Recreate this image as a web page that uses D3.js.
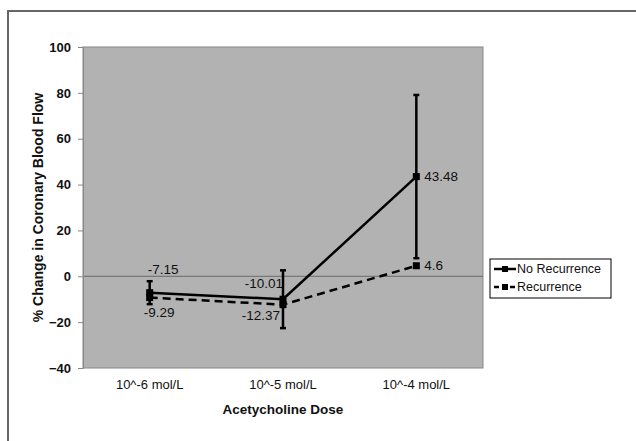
<!DOCTYPE html>
<html><head><meta charset="utf-8">
<script src="https://cdn.jsdelivr.net/npm/d3@7"></script>
<style>body{margin:0;background:#fff}svg{display:block}text{font-family:"Liberation Sans",Arial,sans-serif}</style>
</head><body><svg id="c" width="636" height="441"></svg>
<script>
const categories = ["10^-6 mol/L", "10^-5 mol/L", "10^-4 mol/L"];
const noRecurrence = [-7.15, -10.01, 43.48];
const noRecurrenceErr = [5.0, 12.6, 35.6];
const recurrence = [-9.29, -12.37, 4.6];
const yTicks = [-40, -20, 0, 20, 40, 60, 80, 100];
const seriesNames = ["No Recurrence", "Recurrence"];

const svg = d3.select("#c");
const L = 83, R = 483, T = 47, B = 368;
svg.append("rect").attr("x", 8).attr("y", 11).attr("width", 640).attr("height", 440)
  .attr("fill", "none").attr("stroke", "#666").attr("stroke-width", 2);

const x = d3.scaleBand().domain(categories).range([L, R]);
const y = d3.scaleLinear().domain([-40, 100]).range([B, T]);
const cx = c => x(c) + x.bandwidth() / 2;

svg.append("rect").attr("x", L).attr("y", T).attr("width", R - L).attr("height", B - T)
  .attr("fill", "#b2b2b2").attr("stroke", "#888").attr("stroke-width", 1);

svg.append("line").attr("x1", L).attr("x2", R).attr("y1", y(0)).attr("y2", y(0))
  .attr("stroke", "#6a6a6a").attr("stroke-width", 1);

const ya = svg.append("g").attr("transform", `translate(${L},0)`)
  .call(d3.axisLeft(y).tickValues(yTicks).tickSize(5).tickPadding(7).tickFormat(d3.format("d")));
ya.select(".domain").attr("stroke", "#888");
ya.selectAll(".tick line").attr("stroke", "#888");
ya.selectAll("text").attr("font-size", 13).attr("font-weight", "bold").attr("fill", "#111")
  .style("font-family", '"Liberation Sans",Arial,sans-serif');

const xa = svg.append("g").attr("transform", `translate(0,${B})`)
  .call(d3.axisBottom(x).tickSize(0).tickPadding(12));
xa.select(".domain").remove();
xa.selectAll("text").attr("font-size", 13).attr("fill", "#111")
  .style("font-family", '"Liberation Sans",Arial,sans-serif');

svg.append("text").attr("x", (L + R) / 2).attr("y", 414).attr("text-anchor", "middle")
  .attr("font-size", 13.5).attr("font-weight", "bold").attr("fill", "#111").text("Acetycholine Dose");
svg.append("text").attr("transform", `translate(43,${(T + B) / 2}) rotate(-90)`)
  .attr("text-anchor", "middle").attr("font-size", 14).attr("font-weight", "bold").attr("fill", "#111")
  .text("% Change in Coronary Blood Flow");

// error bars
categories.forEach((c, i) => {
  const g = svg.append("g").attr("stroke", "#000").attr("stroke-width", 2.5);
  const hi = y(noRecurrence[i] + noRecurrenceErr[i]), lo = y(noRecurrence[i] - noRecurrenceErr[i]);
  g.append("line").attr("x1", cx(c)).attr("x2", cx(c)).attr("y1", hi).attr("y2", lo);
  g.append("line").attr("x1", cx(c) - 3).attr("x2", cx(c) + 3).attr("y1", hi).attr("y2", hi);
  g.append("line").attr("x1", cx(c) - 3).attr("x2", cx(c) + 3).attr("y1", lo).attr("y2", lo);
});

const line = d3.line().x((d, i) => cx(categories[i])).y(d => y(d));
svg.append("path").datum(recurrence).attr("d", line).attr("fill", "none")
  .attr("stroke", "#000").attr("stroke-width", 2.5).attr("stroke-dasharray", "8,5");
svg.append("path").datum(noRecurrence).attr("d", line).attr("fill", "none")
  .attr("stroke", "#000").attr("stroke-width", 2.5);

[noRecurrence, recurrence].forEach(s => {
  svg.append("g").selectAll("rect").data(s).join("rect")
    .attr("x", (d, i) => cx(categories[i]) - 3.5).attr("y", d => y(d) - 3.5)
    .attr("width", 7).attr("height", 7).attr("fill", "#000");
});

// data labels: [dx, dy, anchor]
const nrPos = [[-2, -23, "start"], [0, -16, "end"], [8, 0, "start"]];
const rPos = [[-6, 15, "start"], [-3, 11, "end"], [8, 0, "start"]];
const fmt = v => String(v);
[[noRecurrence, nrPos], [recurrence, rPos]].forEach(([s, pos]) => {
  s.forEach((v, i) => {
    svg.append("text").attr("x", cx(categories[i]) + pos[i][0]).attr("y", y(v) + pos[i][1])
      .attr("dy", "0.35em").attr("text-anchor", pos[i][2]).attr("font-size", 13.5)
      .attr("fill", "#111").text(fmt(v));
  });
});

// legend
const lg = svg.append("g");
lg.append("rect").attr("x", 490).attr("y", 259).attr("width", 121).attr("height", 39)
  .attr("fill", "#fff").attr("stroke", "#000").attr("stroke-width", 1);
seriesNames.forEach((n, i) => {
  const yy = 269 + i * 18;
  lg.append("line").attr("x1", 494).attr("x2", 516).attr("y1", yy).attr("y2", yy)
    .attr("stroke", "#000").attr("stroke-width", 2.5).attr("stroke-dasharray", i ? "5,3" : null);
  lg.append("rect").attr("x", 502).attr("y", yy - 3).attr("width", 6).attr("height", 6).attr("fill", "#000");
  lg.append("text").attr("x", 517).attr("y", yy).attr("dy", "0.35em").attr("font-size", 12.5)
    .attr("fill", "#111").text(n);
});
</script></body></html>
